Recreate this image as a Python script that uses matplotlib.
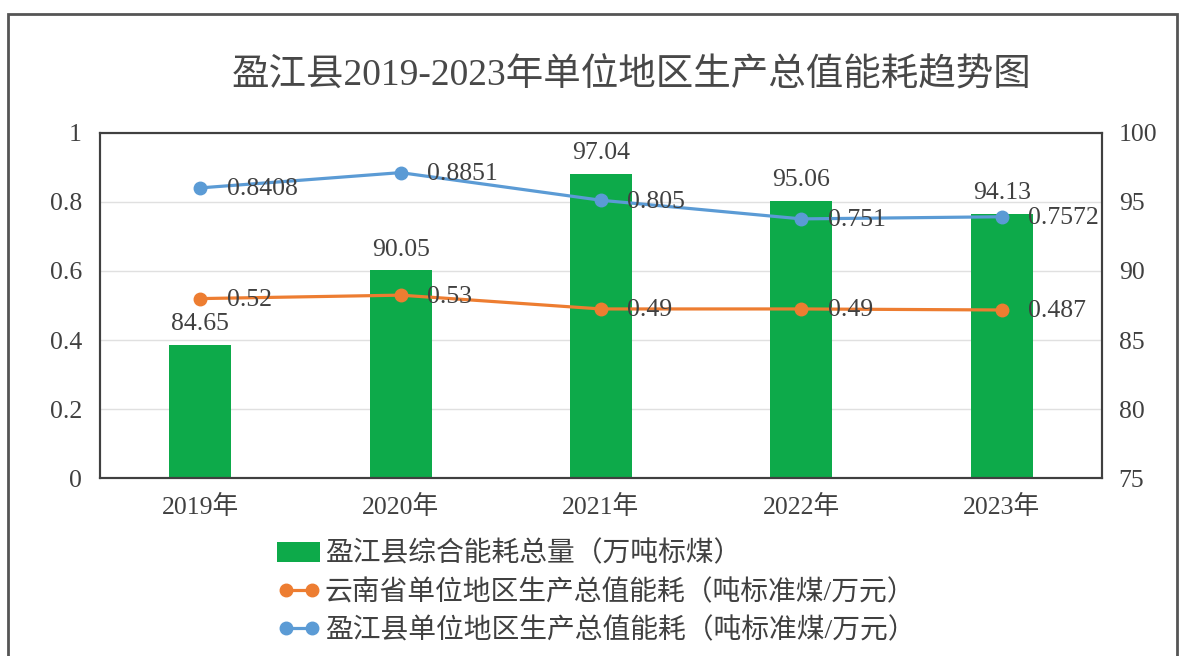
import matplotlib
matplotlib.use("Agg")
import matplotlib.pyplot as plt
from matplotlib.patches import Rectangle
from matplotlib.lines import Line2D
from matplotlib.patches import Patch

plt.rcParams['font.family'] = ['Liberation Serif', 'Noto Sans CJK SC', 'DejaVu Sans']

years = ['2019年', '2020年', '2021年', '2022年', '2023年']
total_energy = [84.65, 90.05, 97.04, 95.06, 94.13]
yunnan_intensity = [0.52, 0.53, 0.49, 0.49, 0.487]
yingjiang_intensity = [0.8408, 0.8851, 0.805, 0.751, 0.7572]
yunnan_labels = ['0.52', '0.53', '0.49', '0.49', '0.487']
yingjiang_labels = ['0.8408', '0.8851', '0.805', '0.751', '0.7572']
bar_labels = ['84.65', '90.05', '97.04', '95.06', '94.13']

title = '盈江县2019-2023年单位地区生产总值能耗趋势图'
legend_labels = ['盈江县综合能耗总量（万吨标煤）',
                 '云南省单位地区生产总值能耗（吨标准煤/万元）',
                 '盈江县单位地区生产总值能耗（吨标准煤/万元）']

GREEN = '#0DAA4A'
ORANGE = '#ED7D31'
BLUE = '#5B9BD5'
TXT = '#404040'
FS = 18.5

fig = plt.figure(figsize=(11.87, 6.56), dpi=100)
ax = fig.add_axes([0.0842, 0.2713, 0.8442, 0.526])
ax2 = ax.twinx()

x = list(range(len(years)))

# bars on right axis
ax2.bar(x, total_energy, width=0.31, color=GREEN, zorder=2)
ax2.set_ylim(75, 100)
ax2.set_yticks([75, 80, 85, 90, 95, 100])
ax2.grid(True, axis='y', color='#E0E0E0', linewidth=1)
ax2.set_axisbelow(True)
for xi, v, lab in zip(x, total_energy, bar_labels):
    ax2.annotate(lab, (xi, v), xytext=(0, 7), textcoords='offset points',
                 ha='center', va='bottom', fontsize=FS, color=TXT)

# lines on left axis, drawn above bars
ax.set_zorder(ax2.get_zorder() + 1)
ax.patch.set_visible(False)
ax.plot(x, yunnan_intensity, color=ORANGE, lw=2.3, marker='o', ms=9, zorder=3)
ax.plot(x, yingjiang_intensity, color=BLUE, lw=2.3, marker='o', ms=9, zorder=3)
for xi, v, lab in zip(x, yunnan_intensity, yunnan_labels):
    ax.annotate(lab, (xi, v), xytext=(19, -1), textcoords='offset points',
                ha='left', va='center', fontsize=FS, color=TXT)
for xi, v, lab in zip(x, yingjiang_intensity, yingjiang_labels):
    ax.annotate(lab, (xi, v), xytext=(19, -1), textcoords='offset points',
                ha='left', va='center', fontsize=FS, color=TXT)

ax.set_ylim(0, 1)
ax.set_yticks([0, 0.2, 0.4, 0.6, 0.8, 1])
ax.set_yticklabels(['0', '0.2', '0.4', '0.6', '0.8', '1'])
ax.set_xlim(-0.5, 4.5)
ax.set_xticks(x)
ax.set_xticklabels(years)

for a in (ax, ax2):
    for s in a.spines.values():
        s.set_color('#404040')
        s.set_linewidth(1.5)
ax.tick_params(axis='y', length=0, pad=13, labelsize=FS, labelcolor=TXT)
ax.tick_params(axis='x', length=0, pad=12, labelsize=FS, labelcolor=TXT)
ax2.tick_params(axis='y', length=0, pad=12, labelsize=FS, labelcolor=TXT)

fig.text(0.532, 0.884, title, ha='center', va='center', fontsize=27, color='#484848')

handles = [Patch(facecolor=GREEN),
           Line2D([0], [0], color=ORANGE, lw=2.3, marker='o', ms=9, markevery=[0, -1]),
           Line2D([0], [0], color=BLUE, lw=2.3, marker='o', ms=9, markevery=[0, -1])]
fig.legend(handles, legend_labels, loc='upper left', bbox_to_anchor=(0.222, 0.196),
           frameon=False, fontsize=20, labelcolor=TXT, handlelength=1.55,
           handletextpad=0.15, labelspacing=0.42, borderpad=0, numpoints=2)

fig.patches.append(Rectangle((0.0067, -0.05), 0.985, 1.029, transform=fig.transFigure,
                             fill=False, edgecolor='#555555', linewidth=2))

fig.savefig('out.png', dpi=100)
